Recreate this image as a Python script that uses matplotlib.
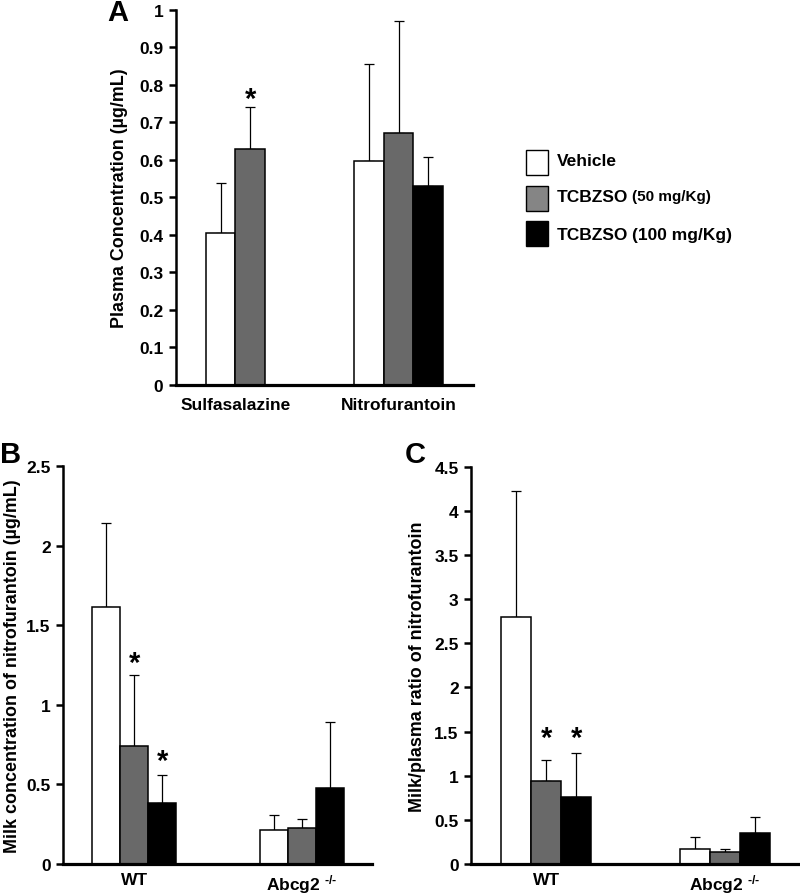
import matplotlib
matplotlib.use("Agg")
import matplotlib.pyplot as plt
from matplotlib.patches import Rectangle
import numpy as np

plt.rcParams['font.family'] = ['Liberation Sans', 'DejaVu Sans']
plt.rcParams['font.weight'] = 'bold'
plt.rcParams['mathtext.fontset'] = 'custom'
plt.rcParams['mathtext.rm'] = 'Liberation Sans'
plt.rcParams['mathtext.bf'] = 'Liberation Sans:bold'
plt.rcParams['mathtext.it'] = 'Liberation Sans'

# series order: Vehicle, TCBZSO 50, TCBZSO 100
series = ["Vehicle", "TCBZSO", "TCBZSO"]
series_dose = ["", "(50 mg/Kg)", "(100 mg/Kg)"]
bar_colors = ["white", "#696969", "black"]
legend_colors = ["white", "#858585", "black"]

# Panel A: plasma concentration
a_groups = ["Sulfasalazine", "Nitrofurantoin"]
a_mean = [[0.404, 0.596], [0.629, 0.672], [np.nan, 0.531]]
a_top = [[0.538, 0.855], [0.740, 0.970], [np.nan, 0.607]]
# asterisk gap above the error bar, in pixels (0 = no asterisk)
a_star = [[0, 0], [8, 0], [0, 0]]

# Panel B: milk concentration
b_groups = ["WT", r"Abcg2 $^{\text{-/-}}$"]
b_mean = [[1.612, 0.214], [0.743, 0.226], [0.383, 0.475]]
b_top = [[2.142, 0.308], [1.189, 0.285], [0.559, 0.894]]
b_star = [[0, 0], [12, 0], [14, 0]]

# Panel C: milk/plasma ratio
c_groups = ["WT", r"Abcg2 $^{\text{-/-}}$"]
c_mean = [[2.80, 0.170], [0.936, 0.140], [0.762, 0.347]]
c_top = [[4.228, 0.310], [1.180, 0.170], [1.253, 0.530]]
c_star = [[0, 0], [22, 0], [15, 0]]


def draw_panel(ax, groups, mean, top, star, width, xlim, ylim, yticks, ylabel, fmt, xpad):
    x = np.arange(len(groups))
    offsets = [-width, 0, width]
    drawn = [[] for _ in groups]
    for s in range(3):
        m = np.array(mean[s], dtype=float)
        t = np.array(top[s], dtype=float)
        pos = x + offsets[s]
        ok = ~np.isnan(m)
        ax.bar(pos[ok], m[ok], width=width, color=bar_colors[s],
               edgecolor='black', linewidth=1.1, zorder=2)
        ax.errorbar(pos[ok], m[ok], yerr=[np.zeros(ok.sum()), (t - m)[ok]],
                    fmt='none', ecolor='black', elinewidth=0.9,
                    capsize=3.8, capthick=0.9, zorder=1)
        for g in range(len(groups)):
            if ok[g]:
                drawn[g].append(pos[g])
            if star[s][g]:
                ax.annotate('*', (pos[g], t[g]), xytext=(0, star[s][g] * 0.72),
                            textcoords='offset points', ha='center',
                            va='center', fontsize=21, fontweight='bold')
    ax.set_xticks([np.mean(d) for d in drawn])
    ax.set_xticklabels(groups, fontsize=12.5)
    ax.tick_params(axis='x', length=0, pad=xpad)
    ax.set_xlim(*xlim)
    ax.set_ylim(*ylim)
    ax.set_yticks(yticks)
    ax.set_yticklabels([fmt(v) for v in yticks], fontsize=12.5)
    ax.tick_params(axis='y', direction='out', length=5, width=1.8, pad=4)
    ax.spines['top'].set_visible(False)
    ax.spines['right'].set_visible(False)
    ax.spines['left'].set_linewidth(1.8)
    ax.spines['bottom'].set_linewidth(2.3)
    ax.set_ylabel(ylabel, fontsize=12.9, fontweight='bold')


def num(v):
    return f"{v:g}"


fig = plt.figure(figsize=(8, 8.95), dpi=100)

axA = fig.add_axes([0.22, 0.569, 0.371, 0.419])
draw_panel(axA, a_groups, a_mean, a_top, a_star, 0.2, (-0.5, 1.5), (0, 1),
           np.round(np.arange(0, 1.01, 0.1), 1), "Plasma Concentration (µg/mL)", num, 9)
axA.yaxis.labelpad = 8

axB = fig.add_axes([0.079, 0.0335, 0.386, 0.4445])
draw_panel(axB, b_groups, b_mean, b_top, b_star, 0.167, (-0.423, 1.417), (0, 2.5),
           np.arange(0, 2.51, 0.5), "Milk concentration of nitrofurantoin (µg/mL)", num, 6)
axB.yaxis.labelpad = 4

axC = fig.add_axes([0.589, 0.0335, 0.411, 0.444])
draw_panel(axC, c_groups, c_mean, c_top, c_star, 0.168, (-0.419, 1.419), (0, 4.5),
           np.arange(0, 4.51, 0.5), "Milk/plasma ratio of nitrofurantoin", num, 6)
axC.yaxis.labelpad = 6

# panel letters
fig.text(107 / 800, 1 - 13 / 895, "A", fontsize=21, fontweight='bold', va='center')
fig.text(0 / 800, 1 - 455 / 895, "B", fontsize=21, fontweight='bold', va='center')
fig.text(405 / 800, 1 - 455 / 895, "C", fontsize=21, fontweight='bold', va='center')

# legend
box_y = [151, 187, 222]
text_y = [161, 197, 236]
for s in range(3):
    fig.patches.append(Rectangle((526 / 800, 1 - (box_y[s] + 25) / 895), 22 / 800, 25 / 895,
                                 transform=fig.transFigure, facecolor=legend_colors[s],
                                 edgecolor='black', linewidth=1.0))
    t = fig.text(557 / 800, 1 - text_y[s] / 895, series[s], fontsize=12.5,
                 fontweight='bold', va='center')
    if series_dose[s]:
        size = 11 if s == 1 else 12.5
        fig.canvas.draw()
        bb = t.get_window_extent()
        fig.text(bb.x1 / 800 + 4 / 800, 1 - text_y[s] / 895, series_dose[s], fontsize=size,
                 fontweight='bold', va='center')

fig.savefig("out.png", dpi=100)
